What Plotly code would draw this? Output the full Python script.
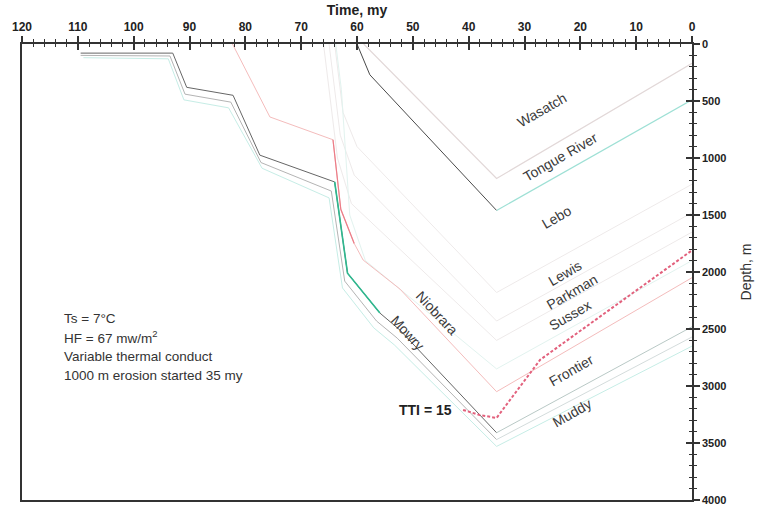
import plotly.graph_objects as go

# ---------------- data ----------------
# burial curves: time (my) and depth (m) of formation tops
t_lebo = [60, 57.7, 35, 0]
d_lebo = [0, 270, 1460, 490]

t_tongue = [58.8, 35, 0]
d_tongue = [0, 1180, 170]

t_lewis = [64.0, 62.5, 60.0, 35, 0]
d_lewis = [0, 600, 900, 2180, 1230]

t_parkman = [65.0, 63.0, 60.5, 35, 0]
d_parkman = [0, 800, 1150, 2430, 1480]

t_sussex = [66.0, 63.5, 61.0, 35, 0]
d_sussex = [0, 1000, 1400, 2600, 1650]

t_niob = [63.8, 62.8, 61.3, 58.5, 35, 0]
d_niob = [0, 400, 1500, 1900, 2850, 1900]

t_frontier = [82.3, 75.6, 64.3, 62.9, 60.5, 58.9, 52.3, 35, 0]
d_frontier = [0, 640, 840, 1450, 1750, 1895, 2150, 3050, 2050]

t_mowry = [109.5, 93, 90.5, 82.2, 77.4, 64.0, 61.7, 55.9, 52.3, 35, 0]
d_mowry = [80, 80, 380, 450, 975, 1210, 2010, 2360, 2510, 3410, 2480]

t_muddy = [109.5, 93.5, 90.8, 82.6, 77.2, 64.6, 62.2, 56.5, 52.8, 35, 0]
d_muddy = [100, 105, 440, 510, 1040, 1290, 2080, 2430, 2580, 3470, 2570]

t_base = [109.0, 93.8, 91.0, 83.0, 77.0, 65.0, 62.6, 57.0, 53.3, 35, 0]
d_base = [120, 130, 490, 560, 1090, 1350, 2140, 2490, 2640, 3530, 2650]

# TTI = 15 isoline
t_tti = [41, 38, 35, 27.2, 0]
d_tti = [3210, 3255, 3280, 2770, 1810]

# formation labels: name, time, depth, angle
lab_names = ["Wasatch", "Tongue River", "Lebo", "Lewis", "Parkman", "Sussex",
             "Frontier", "Muddy", "Niobrara", "Mowry"]
lab_t = [26.9, 23.6, 24.2, 22.7, 21.5, 21.8, 21.5, 21.5, 45.7, 50.9]
lab_d = [579, 991, 1518, 2009, 2175, 2377, 2860, 3237, 2360, 2535]
lab_ang = [-30, -30, -30, -30, -30, -30, -30, -30, 47, 47]

notes = ["Ts = 7°C", "HF = 67 mw/m<sup>2</sup>", "Variable thermal conduct",
         "1000 m erosion started 35 my"]

x_ticks = [120, 110, 100, 90, 80, 70, 60, 50, 40, 30, 20, 10, 0]
y_ticks = [0, 500, 1000, 1500, 2000, 2500, 3000, 3500, 4000]

# ---------------- figure ----------------
fig = go.Figure()

def add(t, d, color, width=1, dash=None):
    fig.add_trace(go.Scatter(x=t, y=d, mode="lines",
                             line=dict(color=color, width=width, dash=dash),
                             hoverinfo="skip", showlegend=False))

VFAINT = "#eeeaea"
add(t_tongue, d_tongue, "#e2d8d8", 1.2)
add(t_lewis, d_lewis, VFAINT, 1)
add(t_parkman, d_parkman, VFAINT, 1)
add(t_sussex, d_sussex, VFAINT, 1)
add(t_niob, d_niob, "#e2f3ef", 1)
add(t_base, d_base, "#c6ede6", 1)
add(t_muddy[:10], d_muddy[:10], "#b4b4b4", 1)
add(t_muddy[9:], d_muddy[9:], "#d4dcdc", 1)
add(t_frontier, d_frontier, "#f4bcbc", 1)
add(t_frontier[2:5], d_frontier[2:5], "#ec7d88", 1.2)
add(t_lebo[:3], d_lebo[:3], "#4a4a4a", 1)
add(t_lebo[2:], d_lebo[2:], "#9ee0d5", 1.2)
add(t_mowry[:10], d_mowry[:10], "#666666", 1)
add(t_mowry[9:], d_mowry[9:], "#b9c9c6", 1)
add(t_mowry[5:8], d_mowry[5:8], "#2fb88f", 1.6)
add(t_tti, d_tti, "#e2607c", 2, "3px,2px")

# invisible trace for overlay axes (crossing ticks)
fig.add_trace(go.Scatter(x=[120, 0], y=[0, 4000], xaxis="x2", yaxis="y2",
                         mode="markers", marker=dict(opacity=0),
                         hoverinfo="skip", showlegend=False))

FAM = "Liberation Sans, Arial, sans-serif"
LAB_FONT = dict(family=FAM, size=14, color="#3a3a3a")
for n, t, d, a in zip(lab_names, lab_t, lab_d, lab_ang):
    fig.add_annotation(x=t, y=d, xref="x", yref="y", text=n, textangle=a,
                       showarrow=False, font=LAB_FONT)

fig.add_annotation(x=47.8, y=3211, xref="x", yref="y", text="<b>TTI = 15</b>",
                   showarrow=False, font=dict(family=FAM, size=14, color="#222"))

for i, s in enumerate(notes):
    fig.add_annotation(x=0.06, y=1 - (318 - 44 + i * 19.3) / 456, xref="paper", yref="paper",
                       xanchor="left", yanchor="middle", text=s, showarrow=False,
                       font=dict(family=FAM, size=13.5, color="#333"))

AX = "#333333"
XTICKFONT = dict(family=FAM, size=12, color="#222")
YTICKFONT = dict(family=FAM, size=11, color="#222")

fig.update_layout(
    width=762, height=506,
    margin=dict(l=22, r=70, t=44, b=6),
    paper_bgcolor="white", plot_bgcolor="white",
    xaxis=dict(range=[120, 0], side="top", anchor="y", showgrid=False, zeroline=False,
               showline=True, linecolor=AX, linewidth=1.5, mirror=True,
               tickmode="array", tickvals=x_ticks, ticktext=[f"<b>{v}</b>" for v in x_ticks],
               ticks="outside", ticklen=6, tickwidth=1.5, tickcolor=AX, tickfont=XTICKFONT,
               minor=dict(dtick=2, ticks="outside", ticklen=3, tickwidth=1, tickcolor=AX),
               title=dict(text="<b>Time, my</b>", standoff=2,
                          font=dict(family=FAM, size=14, color="#222")),
               automargin=False),
    xaxis2=dict(range=[120, 0], overlaying="x", side="top", anchor="y", showgrid=False,
                zeroline=False, showline=False, showticklabels=False,
                tickmode="array", tickvals=x_ticks,
                ticks="inside", ticklen=6, tickwidth=1.5, tickcolor=AX,
                minor=dict(dtick=2, ticks="inside", ticklen=3, tickwidth=1, tickcolor=AX)),
    yaxis=dict(range=[4000, 0], side="right", anchor="x", showgrid=False, zeroline=False,
               showline=True, linecolor=AX, linewidth=1.5, mirror=True,
               tickmode="array", tickvals=y_ticks, ticktext=[f"<b>{v}</b>" for v in y_ticks],
               ticks="outside", ticklen=6, tickwidth=1.5, tickcolor=AX, tickfont=YTICKFONT,
               minor=dict(dtick=100, ticks="outside", ticklen=3, tickwidth=1, tickcolor=AX),
               title=dict(text="Depth, m", standoff=16,
                          font=dict(family=FAM, size=14, color="#333")),
               automargin=False),
    yaxis2=dict(range=[4000, 0], overlaying="y", side="right", anchor="x", showgrid=False,
                zeroline=False, showline=False, showticklabels=False,
                tickmode="array", tickvals=y_ticks,
                ticks="inside", ticklen=6, tickwidth=1.5, tickcolor=AX,
                minor=dict(dtick=100, ticks="inside", ticklen=3, tickwidth=1, tickcolor=AX)),
)

fig.write_html("out.html")
